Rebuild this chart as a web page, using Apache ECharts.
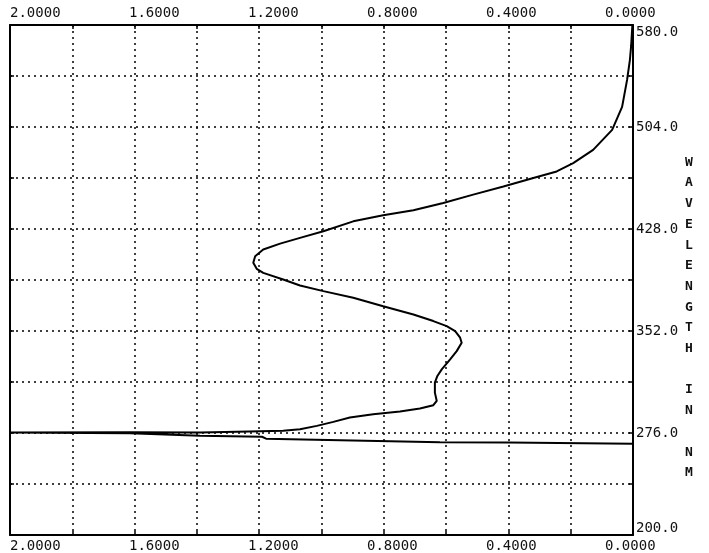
<!DOCTYPE html>
<html>
<head>
<meta charset="utf-8">
<script src="https://cdn.jsdelivr.net/npm/echarts@6/dist/echarts.min.js"></script>
<style>
html,body{margin:0;padding:0;background:#fff;}
#chart{width:709px;height:553px;}
</style>
</head>
<body>
<div id="chart"></div>
<script>
// Absorbance (x, reversed axis) versus wavelength in nm (y)
const absorbance = [0.002, 0.006, 0.010, 0.019, 0.035, 0.067, 0.128,
  0.192, 0.245, 0.320, 0.416, 0.513, 0.609, 0.705, 0.802, 0.898, 0.994,
  1.069, 1.133, 1.187, 1.213, 1.219, 1.208, 1.187, 1.123, 1.069, 0.994,
  0.898, 0.802, 0.705, 0.641, 0.598, 0.571, 0.555, 0.550, 0.566, 0.587,
  0.614, 0.628, 0.636, 0.636, 0.630, 0.641, 0.684, 0.748, 0.834, 0.909,
  0.962, 1.015, 1.069, 1.123, 1.233, 1.390, 1.615, 2.000,
  1.615, 1.390, 1.191, 1.178, 0.900, 0.620, 0.400, 0.000];
const wavelength = [580, 564.4, 553.9, 539.1, 519.0, 501.9, 487.0,
  477.1, 470.9, 466.0, 459.7, 453.6, 447.4, 441.9, 438.2, 433.7, 426.3,
  421.4, 417.1, 412.7, 407.7, 402.8, 398.3, 395.3, 390.4, 385.9, 381.7,
  376.8, 370.5, 364.3, 359.4, 355.6, 351.9, 347.0, 343.3, 337.0, 330.9,
  323.4, 318.5, 313.5, 306.1, 299.9, 296.7, 294.2, 292.0, 290.0, 287.5,
  284.3, 281.3, 278.8, 277.6, 277.1, 276.4, 276.6, 276.4,
  275.9, 274.0, 273.2, 271.8, 270.5, 269.2, 268.9, 268.0];

const xTickLabels = ['2.0000', '1.6000', '1.2000', '0.8000', '0.4000', '0.0000'];
const yTickLabels = [200, 276, 352, 428, 504, 580];
const yAxisTitle = 'WAVELENGTH IN NM';

const FONT = 'DejaVu Sans Mono';
const gridLine = {show: true, lineStyle: {color: '#000', width: 1.5, type: [2, 4]}};
const border = {show: true, onZero: false, lineStyle: {color: '#000', width: 2}};
const innerTick = {show: true, inside: true, length: 4, lineStyle: {color: '#000', width: 1.5}};

const plotWidth = 623;
const labelStep = 119;
const labelAxisMax = plotWidth / labelStep;

function labelAxis(pos, margin) {
  return {
    type: 'value', position: pos, gridIndex: 0,
    min: 0, max: labelAxisMax, interval: 1,
    axisLine: {show: false}, axisTick: {show: false}, splitLine: {show: false},
    axisLabel: {
      show: true, align: 'left', margin: margin,
      fontFamily: FONT, fontSize: 14, color: '#111',
      showMinLabel: true, showMaxLabel: true,
      formatter: v => (Math.abs(v - Math.round(v)) < 1e-6 && xTickLabels[Math.round(v)] !== undefined) ? xTickLabels[Math.round(v)] : ''
    }
  };
}

const chart = echarts.init(document.getElementById('chart'), null, {renderer: 'canvas'});
chart.setOption({
  backgroundColor: '#fff',
  animation: false,
  title: {
    text: yAxisTitle.split('').map(c => c === ' ' ? '' : c).join('\n'),
    left: 685, top: 152, padding: 0,
    textStyle: {fontFamily: FONT, fontSize: 13, fontWeight: 'bold', color: '#111', lineHeight: 20.7}
  },
  grid: {left: 10, right: 76, top: 25, bottom: 17, containLabel: false},
  xAxis: [
    {type: 'value', position: 'bottom', inverse: true, min: 0, max: 2, interval: 0.2,
     axisLine: border, axisTick: innerTick, axisLabel: {show: false}, splitLine: gridLine},
    {type: 'value', position: 'top', inverse: true, min: 0, max: 2, interval: 0.2,
     axisLine: border, axisTick: innerTick, axisLabel: {show: false}, splitLine: {show: false}},
    labelAxis('bottom', 4),
    labelAxis('top', 5)
  ],
  yAxis: [
    {type: 'value', position: 'right', min: 200, max: 580, interval: 38,
     axisLine: border, axisTick: innerTick, splitLine: gridLine,
     axisLabel: {show: true, margin: 3, fontFamily: FONT, fontSize: 14, color: '#111',
       verticalAlignMinLabel: 'bottom', verticalAlignMaxLabel: 'top',
       formatter: v => yTickLabels.indexOf(Math.round(v)) >= 0 ? Math.round(v).toFixed(1) : ''}},
    {type: 'value', position: 'left', min: 200, max: 580, interval: 38,
     axisLine: border, axisTick: innerTick, axisLabel: {show: false}, splitLine: {show: false}}
  ],
  series: [{
    type: 'line', xAxisIndex: 0, yAxisIndex: 0,
    data: absorbance.map((a, i) => [a, wavelength[i]]),
    showSymbol: false, symbol: 'none', smooth: false, clip: true,
    lineStyle: {color: '#000', width: 2}
  }]
});
</script>
</body>
</html>
